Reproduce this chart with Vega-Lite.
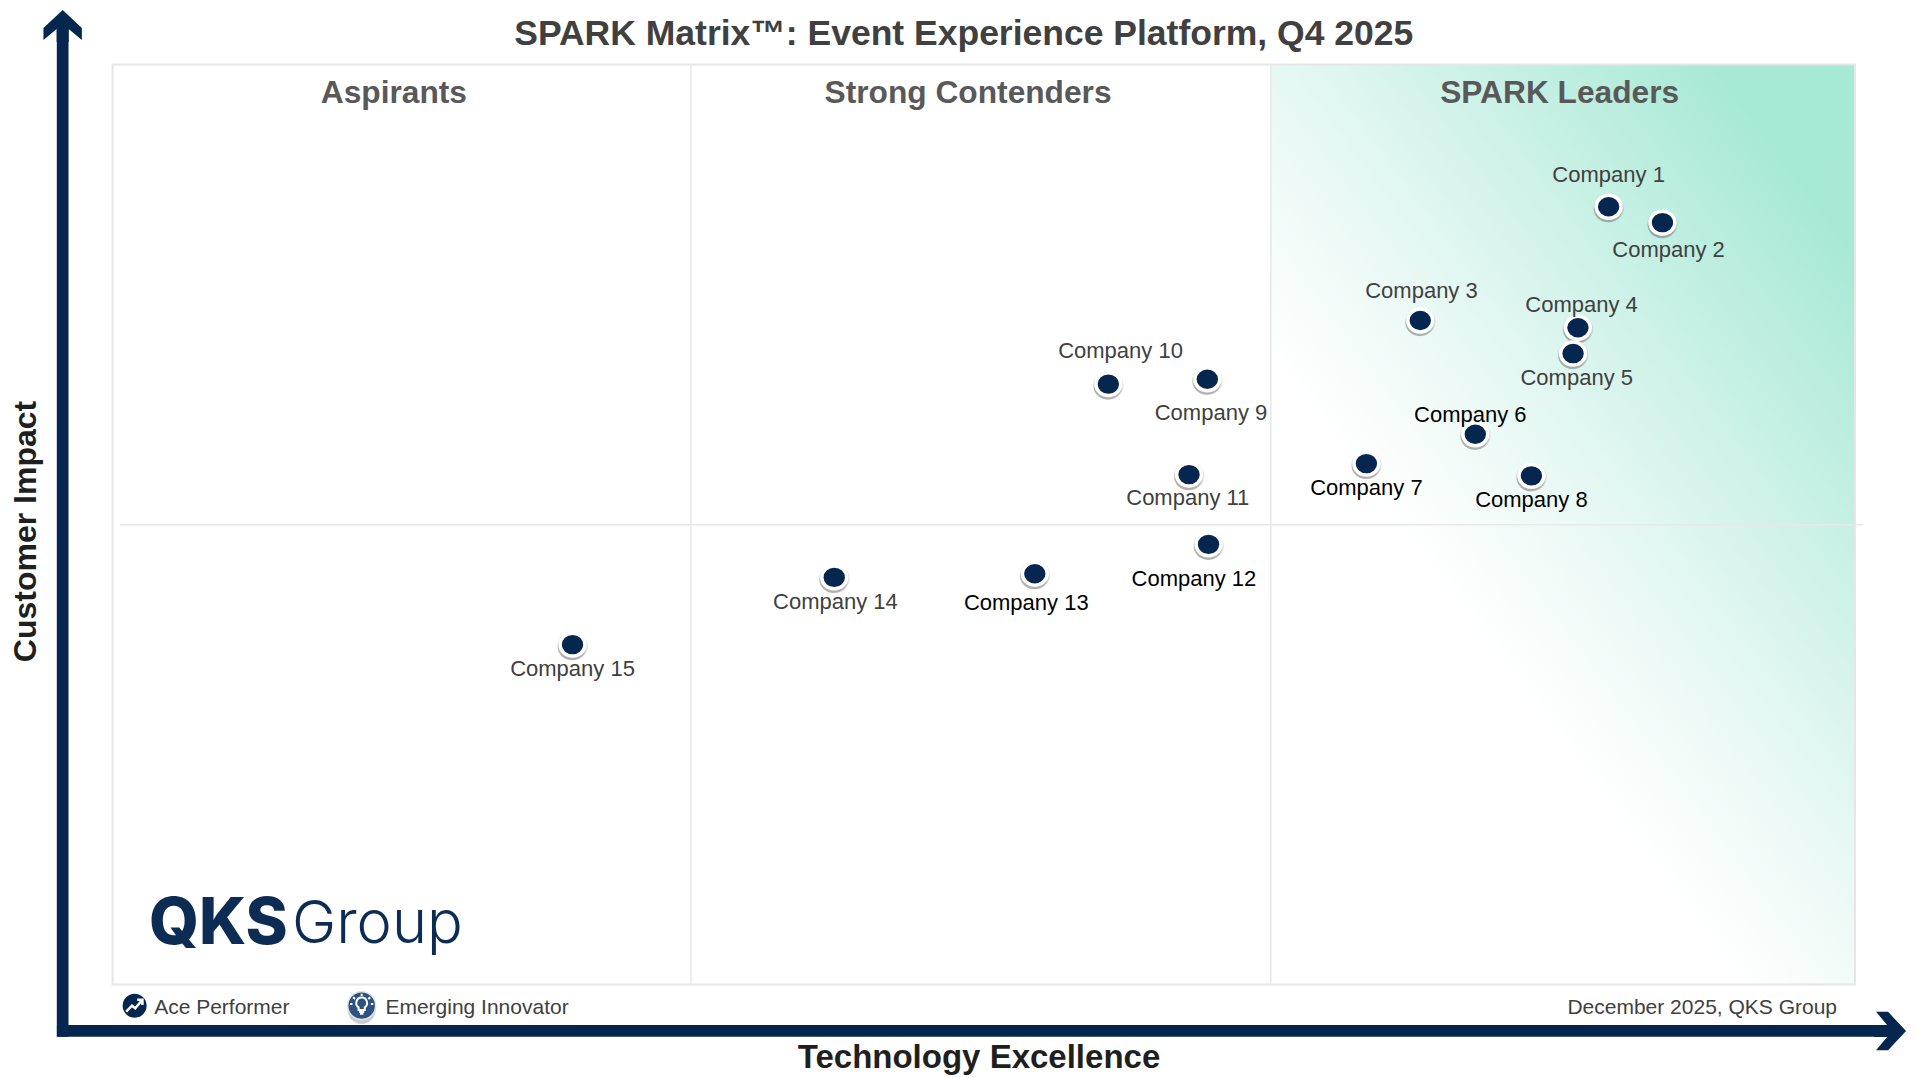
{
  "$schema": "https://vega.github.io/schema/vega-lite/v6.json",
  "autosize": "none",
  "width": 1742.5,
  "height": 920,
  "padding": {"left": 112.5, "top": 64.5, "right": 63, "bottom": 93.5},
  "background": "white",
  "config": {"view": {"stroke": null}, "font": "Liberation Sans"},
  "title": {
    "text": "SPARK Matrix™: Event Experience Platform, Q4 2025",
    "fontSize": 35.5,
    "fontWeight": "bold",
    "color": "#404040",
    "anchor": "middle",
    "dx": -20,
    "offset": -42
  },
  "datasets": {
    "companies": [
      {"company": "Company 1", "tech": 85.86, "impact": 84.54},
      {"company": "Company 2", "tech": 88.95, "impact": 82.81},
      {"company": "Company 3", "tech": 75.05, "impact": 72.17},
      {"company": "Company 4", "tech": 84.1, "impact": 71.38},
      {"company": "Company 5", "tech": 83.82, "impact": 68.58},
      {"company": "Company 6", "tech": 78.21, "impact": 59.81},
      {"company": "Company 7", "tech": 71.96, "impact": 56.62},
      {"company": "Company 8", "tech": 81.43, "impact": 55.29},
      {"company": "Company 9", "tech": 62.83, "impact": 65.79},
      {"company": "Company 10", "tech": 57.15, "impact": 65.26},
      {"company": "Company 11", "tech": 61.78, "impact": 55.42},
      {"company": "Company 12", "tech": 62.9, "impact": 47.84},
      {"company": "Company 13", "tech": 52.93, "impact": 44.65},
      {"company": "Company 14", "tech": 41.42, "impact": 44.25},
      {"company": "Company 15", "tech": 26.4, "impact": 36.94}
    ],
    "companyLabels": [
      {"company": "Company 1", "tech": 85.86, "impact": 88.0},
      {"company": "Company 2", "tech": 89.3, "impact": 79.89},
      {"company": "Company 3", "tech": 75.12, "impact": 75.37},
      {"company": "Company 4", "tech": 84.31, "impact": 73.9},
      {"company": "Company 5", "tech": 84.03, "impact": 65.93},
      {"company": "Company 6", "tech": 77.92, "impact": 61.94},
      {"company": "Company 7", "tech": 71.96, "impact": 53.96},
      {"company": "Company 8", "tech": 81.43, "impact": 52.63},
      {"company": "Company 9", "tech": 63.04, "impact": 62.07},
      {"company": "Company 10", "tech": 57.85, "impact": 68.85},
      {"company": "Company 11", "tech": 61.71, "impact": 52.9},
      {"company": "Company 12", "tech": 62.06, "impact": 44.12},
      {"company": "Company 13", "tech": 52.44, "impact": 41.46},
      {"company": "Company 14", "tech": 41.49, "impact": 41.59},
      {"company": "Company 15", "tech": 26.4, "impact": 34.28}
    ],
    "quadrants": [
      {"name": "Aspirants", "tech": 16.15, "impact": 96.9},
      {"name": "Strong Contenders", "tech": 49.1, "impact": 96.9},
      {"name": "SPARK Leaders", "tech": 83.05, "impact": 96.9}
    ],
    "verticalLines": [
      {"tech": 33.2, "impact": 0, "impact2": 100},
      {"tech": 66.48, "impact": 0, "impact2": 100}
    ],
    "horizontalLines": [
      {"tech": 0.42, "tech2": 100.46, "impact": 49.97}
    ],
    "legendText": [
      {"text": "Ace Performer", "tech": 2.39, "impact": -2.55},
      {"text": "Emerging Innovator", "tech": 15.66, "impact": -2.55}
    ]
  },
  "encoding": {
    "x": {
      "field": "tech",
      "type": "quantitative",
      "scale": {"domain": [0, 100], "nice": false, "zero": false},
      "axis": {
        "title": "Technology Excellence",
        "titleFontSize": 33,
        "titleFontWeight": "bold",
        "titleColor": "#1f1f1f",
        "titleX": 866,
        "titleY": 72.5,
        "titleBaseline": "middle",
        "domain": false,
        "ticks": false,
        "labels": false,
        "grid": false
      }
    },
    "y": {
      "field": "impact",
      "type": "quantitative",
      "scale": {"domain": [0, 100], "nice": false, "zero": false},
      "axis": {
        "title": "Customer Impact",
        "titleFontSize": 32,
        "titleFontWeight": "bold",
        "titleColor": "#1f1f1f",
        "titleX": -86.8,
        "titleY": 466.5,
        "titleBaseline": "middle",
        "domain": false,
        "ticks": false,
        "labels": false,
        "grid": false
      }
    }
  },
  "layer": [
    {
      "data": {"values": [{"tech": 66.48, "tech2": 100, "impact": 0, "impact2": 100}]},
      "mark": {
        "type": "rect",
        "color": {
          "gradient": "linear",
          "x1": 1, "y1": 0, "x2": 0.15, "y2": 1,
          "stops": [
            {"offset": 0, "color": "#a6e9d5"},
            {"offset": 0.12, "color": "#a8e9d6"},
            {"offset": 0.49, "color": "#e6f8f3"},
            {"offset": 0.68, "color": "#ffffff"},
            {"offset": 1, "color": "#ffffff"}
          ]
        }
      },
      "encoding": {"x2": {"field": "tech2"}, "y2": {"field": "impact2"}}
    },
    {
      "data": {"name": "horizontalLines"},
      "mark": {"type": "rule", "color": "#e8e8e8", "strokeWidth": 1.5},
      "encoding": {"x2": {"field": "tech2"}}
    },
    {
      "data": {"values": [{"tech": 0, "tech2": 100, "impact": 0, "impact2": 100}]},
      "mark": {"type": "rect", "fill": null, "stroke": "#e6e6e6", "strokeWidth": 2},
      "encoding": {"x2": {"field": "tech2"}, "y2": {"field": "impact2"}}
    },
    {
      "data": {"name": "verticalLines"},
      "mark": {"type": "rule", "color": "#e8e8e8", "strokeWidth": 1.5},
      "encoding": {"y2": {"field": "impact2"}}
    },
    {
      "data": {"values": [{"tech": -2.86, "impact": -5.69, "impact2": 104}]},
      "mark": {"type": "rule", "color": "#05264f", "strokeWidth": 11.7},
      "encoding": {"y2": {"field": "impact2"}}
    },
    {
      "data": {"values": [{"tech": -3.19, "tech2": 101.5, "impact": -5.05}]},
      "mark": {"type": "rule", "color": "#05264f", "strokeWidth": 11.7},
      "encoding": {"x2": {"field": "tech2"}}
    },
    {
      "data": {"values": [{"tech": -2.86, "impact": 105.92}]},
      "mark": {
        "type": "point",
        "filled": true,
        "opacity": 1,
        "color": "#05264f",
        "size": 1600,
        "shape": "M0,0 L0.96,0.9 L0.96,1.5 L0.3,0.95 L0.3,1.6 L-0.3,1.6 L-0.3,0.95 L-0.96,1.5 L-0.96,0.9 Z"
      }
    },
    {
      "data": {"values": [{"tech": 102.93, "impact": -5.05}]},
      "mark": {
        "type": "point",
        "filled": true,
        "opacity": 1,
        "color": "#05264f",
        "size": 1600,
        "shape": "M0,0 L-0.9,-0.96 L-1.5,-0.96 L-0.95,-0.3 L-1.6,-0.3 L-1.6,0.3 L-0.95,0.3 L-1.5,0.96 L-0.9,0.96 Z"
      }
    },
    {
      "data": {"name": "quadrants"},
      "mark": {"type": "text", "fontSize": 31.7, "fontWeight": "bold", "color": "#595959"},
      "encoding": {"text": {"field": "name"}}
    },
    {
      "data": {"name": "companies"},
      "mark": {
        "type": "point",
        "filled": true,
        "opacity": 0.22,
        "color": "#7f7f7f",
        "size": 940,
        "yOffset": 1.5,
        "shape": "M-1,0 C-1,-0.51 -0.55,-0.92 0,-0.92 C0.55,-0.92 1,-0.51 1,0 C1,0.51 0.55,0.92 0,0.92 C-0.55,0.92 -1,0.51 -1,0 Z"
      }
    },
    {
      "data": {"name": "companies"},
      "mark": {
        "type": "point",
        "filled": true,
        "opacity": 0.5,
        "color": "#7f7f7f",
        "size": 800,
        "xOffset": -0.5,
        "yOffset": 2.5,
        "shape": "M-1,0 C-1,-0.51 -0.55,-0.92 0,-0.92 C0.55,-0.92 1,-0.51 1,0 C1,0.51 0.55,0.92 0,0.92 C-0.55,0.92 -1,0.51 -1,0 Z"
      }
    },
    {
      "data": {"name": "companies"},
      "mark": {
        "type": "point",
        "filled": true,
        "opacity": 1,
        "color": "#05264f",
        "stroke": "white",
        "strokeWidth": 3.5,
        "size": 620,
        "shape": "M-1,0 C-1,-0.51 -0.55,-0.92 0,-0.92 C0.55,-0.92 1,-0.51 1,0 C1,0.51 0.55,0.92 0,0.92 C-0.55,0.92 -1,0.51 -1,0 Z"
      }
    },
    {
      "data": {"name": "companyLabels"},
      "mark": {"type": "text", "fontSize": 22},
      "encoding": {
        "text": {"field": "company"},
        "color": {
          "condition": {
            "test": {"field": "company", "oneOf": ["Company 6", "Company 7", "Company 8", "Company 12", "Company 13"]},
            "value": "#000000"
          },
          "value": "#404040"
        }
      }
    },
    {
      "data": {"values": [{"text": "QKS", "tech": 2.09, "impact": 4.4}]},
      "mark": {"type": "text", "font": "Inter", "fontWeight": 800, "fontSize": 64, "align": "left", "baseline": "alphabetic", "color": "#0d2c54"},
      "encoding": {"text": {"field": "text"}}
    },
    {
      "data": {"values": [{"text": "Group", "tech": 10.3, "impact": 4.54}]},
      "mark": {"type": "text", "font": "Inter", "fontWeight": 300, "fontSize": 59.5, "align": "left", "baseline": "alphabetic", "color": "#0d2c54"},
      "encoding": {"text": {"field": "text"}}
    },
    {
      "data": {"values": [{"tech": 1.27, "impact": -2.3}]},
      "mark": {"type": "point", "filled": true, "opacity": 1, "color": "#05264f", "stroke": "white", "strokeWidth": 1.5, "size": 650}
    },
    {
      "data": {"values": [{"tech": 1.27, "impact": -2.3}]},
      "mark": {
        "type": "point",
        "filled": false,
        "opacity": 1,
        "color": "white",
        "strokeWidth": 2.5,
        "size": 676,
        "shape": "M-0.65,0.45 L-0.2,0 L0.05,0.2 L0.6,-0.45 M0.2,-0.45 L0.6,-0.45 L0.6,-0.05"
      }
    },
    {
      "data": {"values": [{"tech": 14.3, "impact": -2.3}]},
      "mark": {"type": "point", "filled": true, "opacity": 0.4, "color": "#7f7f7f", "size": 800, "yOffset": 4}
    },
    {
      "data": {"values": [{"tech": 14.3, "impact": -2.3}]},
      "mark": {"type": "point", "filled": true, "opacity": 1, "color": "#2f5380", "stroke": "#dfe4ea", "strokeWidth": 1.5, "size": 780}
    },
    {
      "data": {"values": [{"tech": 14.3, "impact": -2.3}]},
      "mark": {
        "type": "point",
        "filled": false,
        "opacity": 1,
        "color": "white",
        "strokeWidth": 2,
        "size": 800,
        "shape": "M-0.22,0.3 L-0.22,0.12 A0.38,0.38 0 1 1 0.22,0.12 L0.22,0.3 Z M-0.18,0.45 L0.18,0.45 M-0.12,0.58 L0.12,0.58 M0,-0.85 L0,-0.68 M-0.6,-0.6 L-0.47,-0.47 M0.6,-0.6 L0.47,-0.47 M-0.82,-0.12 L-0.65,-0.12 M0.82,-0.12 L0.65,-0.12"
      }
    },
    {
      "data": {"name": "legendText"},
      "mark": {"type": "text", "fontSize": 21, "align": "left", "color": "#404040"},
      "encoding": {"text": {"field": "text"}}
    },
    {
      "data": {"values": [{"text": "December 2025, QKS Group", "tech": 98.97, "impact": -2.55}]},
      "mark": {"type": "text", "fontSize": 21, "align": "right", "color": "#404040"},
      "encoding": {"text": {"field": "text"}}
    }
  ]
}
